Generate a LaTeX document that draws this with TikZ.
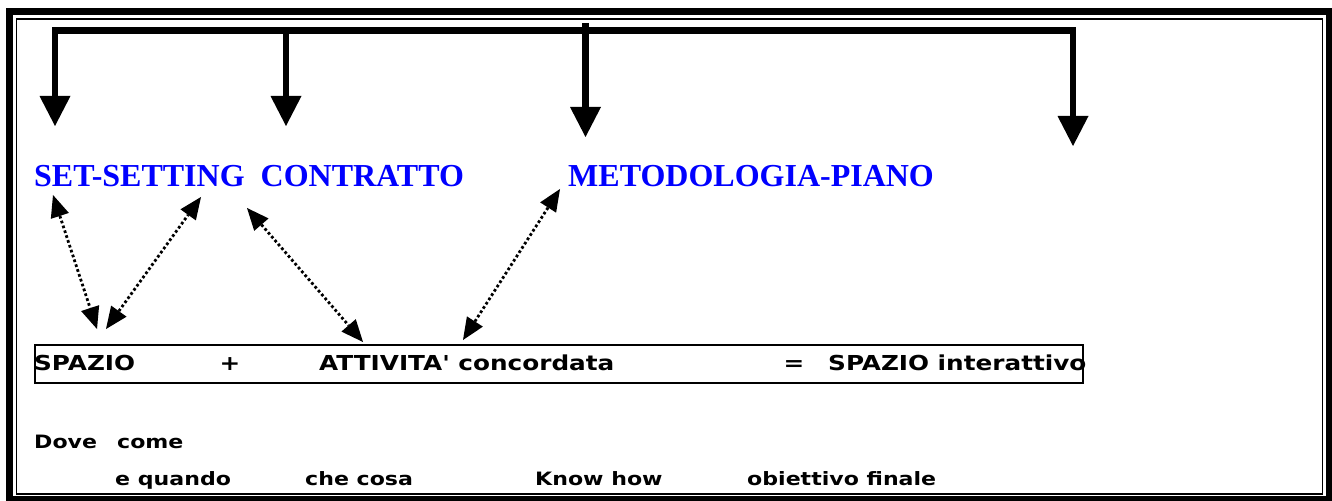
\documentclass[tikz,border=0pt]{standalone}
\usepackage{fontspec}
\setmainfont{Liberation Serif}
\newfontfamily\comicfont[FakeStretch=1.2]{DejaVu Sans}
\usetikzlibrary{arrows.meta}
\definecolor{pureblue}{RGB}{0,0,255}
\begin{document}
\begin{tikzpicture}[x=1bp,y=-1bp,
  barline/.style={line width=6.5bp,line join=miter,line cap=butt},
  dotline/.style={line width=2.8bp,dash pattern=on 2.7bp off 2.4bp,{Triangle[width=19bp,length=22bp,line width=0pt]}-{Triangle[width=19bp,length=22bp,line width=0pt]}},
  bluetext/.style={inner sep=0pt,anchor=base west,text=pureblue,font=\fontsize{32bp}{38bp}\selectfont\bfseries},
  comictext/.style={inner sep=0pt,anchor=base west,font=\comicfont\fontsize{20.6bp}{24bp}\selectfont\bfseries},
  smallcomic/.style={inner sep=0pt,anchor=base west,font=\comicfont\fontsize{18.4bp}{22bp}\selectfont\bfseries},
  framebox/.style={draw,line width=2bp,inner sep=0pt,anchor=north west}
]
\useasboundingbox (0,0) rectangle (1332,501);
% outer double frame
\draw[line width=7bp] (9.5,11.5) rectangle (1329,499);
\draw[line width=1.5bp] (16.5,19) rectangle (1322.5,494);

% top distribution bar with arrows
\coordinate (t1) at (55,30.5);
\coordinate (t2) at (286,30.5);
\coordinate (t3) at (585.5,23);
\coordinate (t4) at (1073,30.5);
\coordinate (h1) at (55,126);
\coordinate (h2) at (286,126);
\coordinate (h3) at (585.5,137);
\coordinate (h4) at (1073,146);
\draw[barline,{Triangle[width=31bp,length=30bp,line width=0pt]}-{Triangle[width=31bp,length=30bp,line width=0pt]}] (h1) -- (t1) -- (t4) -- (h4);
\draw[barline,-{Triangle[width=31bp,length=30bp,line width=0pt]}] (t2) -- (h2);
\draw[barline,-{Triangle[width=31bp,length=30bp,line width=0pt]}] (t3) -- (h3);

% blue headings
\node[bluetext] (setc) at (34,187) {SET-SETTING\ \ CONTRATTO};
\node[bluetext] (meto) at (568,187) {METODOLOGIA-PIANO};

% box
\node[framebox,minimum width=1048bp,minimum height=38bp] (box) at (34,344) {};
\node[comictext] (spazio) at (34,370) {SPAZIO};
\node[comictext,anchor=base] (plus) at (230,370) {+};
\node[comictext] (attivita) at (319,370) {ATTIVITA' concordata};
\node[comictext,anchor=base] (eq) at (794,370) {=};
\node[comictext] (spazioi) at (828,370) {SPAZIO interattivo};

% dotted double arrows
\coordinate (d1a) at (53,195);  \coordinate (d1b) at (97,329);
\coordinate (d2a) at (106,329); \coordinate (d2b) at (201,197);
\coordinate (d3a) at (247,208); \coordinate (d3b) at (363,342);
\coordinate (d4a) at (463,340); \coordinate (d4b) at (560,189);
\draw[dotline] (d1a) -- (d1b);
\draw[dotline] (d2a) -- (d2b);
\draw[dotline] (d3a) -- (d3b);
\draw[dotline] (d4a) -- (d4b);

% bottom texts
\node[smallcomic] (dove) at (34,448) {Dove};
\node[smallcomic] (come) at (117,448) {come};
\node[smallcomic] (quando) at (115,485) {e quando};
\node[smallcomic] (checosa) at (305,485) {che cosa};
\node[smallcomic] (know) at (535,485) {Know how};
\node[smallcomic] (obiettivo) at (747,485) {obiettivo finale};
\end{tikzpicture}
\end{document}
